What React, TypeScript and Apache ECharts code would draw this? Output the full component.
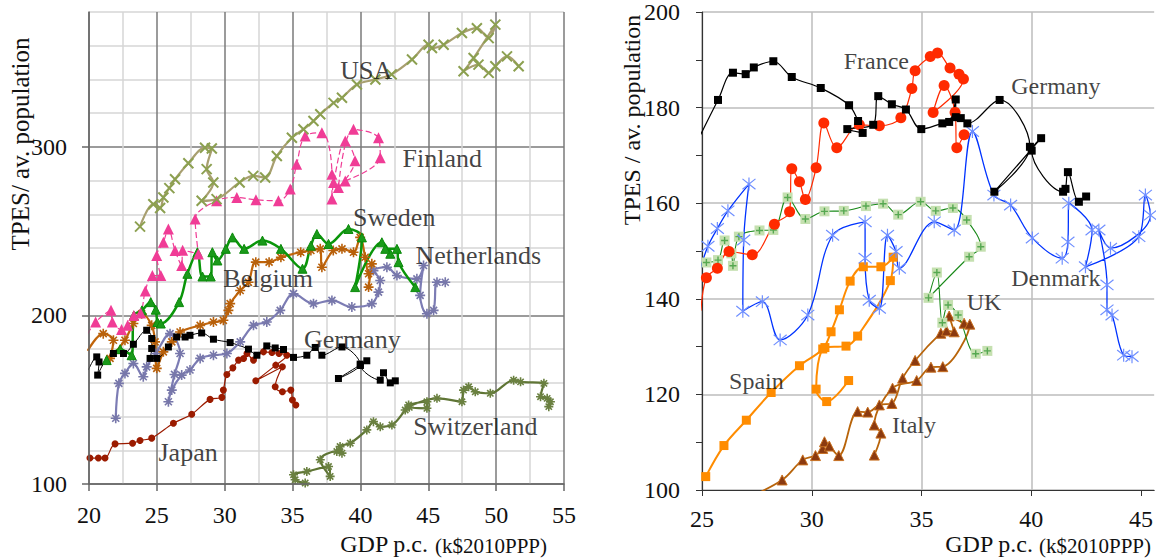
import React, { useEffect, useRef } from 'react';
import * as echarts from 'echarts';

const FONT = '"Liberation Serif", "Times New Roman", serif';

// ---------- Left panel: [GDP p.c. k$, TPES / av. population] ----------
const usaL = [[23.76,252.7],[24.74,266],[25.24,263.7],[25.48,270],[25.92,275.5],[26.34,280.8],[27.32,290.3],[28.55,299.5],[29.05,299],[28.67,286.8],[29.16,278.9],[28.3,268],[29.4,269],[31.1,278.9],[32.1,282.8],[32.98,281.8],[33.84,294.6],[34.95,305.4],[35.8,310.4],[36.54,315.3],[37.04,319.3],[38.02,326.1],[38.64,329.1],[39.74,337],[41.1,340],[42.3,343],[43.8,351.8],[45.02,360.6],[45.27,358.6],[46.13,360.6],[47.48,367.5],[48.58,370.4],[49.45,364.5],[49.94,372.5],[48.34,352.7],[47.6,344.9],[48.7,348.8],[49.45,343.9],[49.94,347.8],[50.8,353.7],[51.66,347.8]];
const finlandL = [[19.9,189],[20.49,196.1],[21.62,203],[21.72,196.1],[22.4,191.6],[22.85,194.1],[23.3,200],[23.8,201.4],[24.15,214.5],[24.67,223.7],[25.29,223.7],[24.99,235.5],[25.48,243.4],[25.85,251.3],[26.34,238.5],[26.83,229.6],[26.9,238.7],[28.06,236.5],[27.82,257.2],[29.4,268],[30.89,270],[32.3,268.6],[33.96,268],[34.83,275],[35.3,289.7],[35.93,306.4],[37.16,308.4],[37.9,283.8],[37.9,269],[38.02,278.8],[38.88,303.5],[39.6,291.7],[38.38,275.9],[39.49,310.4],[41.33,305.4],[41.46,293.6],[38.88,279.8]];
const swedenL = [[21.3,173.5],[22.3,180],[23.14,176.4],[23.3,200],[23.9,203],[24.55,207.9],[24.92,203.4],[25.04,196.1],[25.29,195.2],[26.64,207.9],[27.25,224.7],[27.99,237.5],[28.36,223.1],[28.97,223.1],[29.09,237.5],[29.46,232.6],[30.08,239.5],[30.57,246.3],[31.43,239.5],[32.78,244.4],[34.14,239.5],[35.73,227.7],[36.35,241.4],[36.79,248.3],[37.65,242.4],[39.12,251.3],[40.11,246.3],[39.61,216.8],[41.58,243.4],[42.2,236.6],[41.83,239.5],[42.69,239.5],[42.81,231.6],[44.04,216.8]];
const netherlandsL = [[19.9,179],[21.05,189.2],[21.8,185.3],[21.55,174.5],[22.65,185.3],[23.27,195.2],[23.88,201],[24.62,194.1],[24.87,184.3],[24.99,168.6],[25.48,178.4],[26.1,184.3],[26.71,190.2],[28.19,194.1],[29.17,196.1],[29.9,197.1],[30.27,203],[30.4,207],[31.14,214.8],[31.75,219.7],[32.29,231.6],[33.27,231.6],[34.14,234.5],[35.6,237.5],[36.35,238.5],[37.04,239.5],[37.16,228.6],[38.0,238.5],[38.64,239.5],[39.49,237.5],[39.98,246.3],[40.35,234.5],[40.6,224.7],[40.84,230.6],[40.6,216.8]];
const belgiumL = [[21.97,139],[22.2,159.7],[22.65,165.6],[23.27,171.5],[24.0,163.6],[24.25,169.5],[24.92,177.4],[25.97,189.2],[26.71,177.4],[26.3,165],[25.85,148.8],[26.1,155.7],[26.83,164.6],[27.44,167.6],[28.19,174.5],[29.17,176.4],[30.16,177.4],[31.14,184.3],[32.12,194.1],[33.1,196.1],[34.09,203],[35.07,212.9],[36.54,207],[37.9,208.9],[39.37,205],[40.84,207],[41.33,213.8],[41.46,220.7],[40.96,226.6],[41.95,228.6],[42.69,223.7],[44.16,221.7],[44.65,229.6],[44.4,211.9],[44.9,201],[45.39,203],[45.64,219.7],[46.25,219.7]];
const germanyL = [[19.95,167.6],[20.57,175.4],[20.74,172.4],[20.64,164.6],[21.8,177.4],[22.54,177.4],[23.27,182.9],[24.25,191.2],[24.62,186.3],[24.62,180.4],[24.5,174.5],[24.99,174.5],[25.85,181.3],[26.46,187.2],[27.08,187.2],[27.44,188.2],[28.3,189.6],[29.17,185.9],[30.4,183.9],[31.75,180],[32.37,176.4],[33.1,181.9],[33.72,180.7],[34.33,179.8],[35.07,175.1],[36.05,176.4],[36.67,181],[37.16,176.4],[38.64,181.3],[39.98,171.1],[38.38,162.6],[40.47,173.1],[40.0,170.3],[41.46,161.6],[41.7,166],[42.2,160],[42.57,161.2]];
const japanL = [[19.9,115.4],[20.07,115.4],[20.69,115.4],[21.18,115.4],[21.92,123.8],[23.21,124.2],[23.76,125.8],[24.62,127.2],[26.22,136],[27.57,141.4],[28.92,150.2],[29.79,151.4],[29.9,155.7],[30.16,165],[30.6,168.9],[31.02,173.5],[31.39,174.5],[31.64,177.4],[32.12,173.5],[32.86,178.4],[33.48,178],[34.0,177.4],[34.58,176.4],[33.76,170.5],[32.29,161.2],[34.25,169.5],[33.72,157.7],[34.25,154.7],[34.87,155.7],[34.99,149.8],[35.24,146.9]];
const switzerlandL = [[35.93,100.6],[35.19,102.5],[35.07,105.5],[36.05,107.4],[37.65,110.4],[37.77,104.5],[37.04,114.4],[38.26,119.3],[38.64,118.3],[38.5,122.2],[39.25,124.2],[40.47,132.1],[40.96,137],[41.46,134],[42.32,135],[43.3,143.9],[43.55,146.9],[44.9,148.8],[44.9,144.9],[43.6,145.5],[45.64,150.8],[47.48,148.8],[47.6,155.7],[47.97,157.7],[48.46,154.7],[49.57,153.8],[51.29,161.6],[51.8,160.6],[53.52,159.7],[53.27,151.8],[53.76,150.8],[54.0,148.8],[53.88,145.9]];

// ---------- Right panel ----------
const germanyR = [[24.9,174],[25.73,181.6],[26.41,187.3],[26.99,187],[27.36,188.4],[28.25,189.7],[29.09,186.4],[30.41,184.1],[31.7,180.5],[32.11,177.2],[32.32,174.7],[31.62,175.5],[32.8,176.4],[33.03,182.4],[33.65,180.7],[34.29,179.6],[34.99,175.5],[35.95,176.7],[36.26,177],[36.56,181.7],[36.56,178],[36.79,177.8],[37.09,176.7],[38.56,181.6],[39.94,171.8],[38.32,162.4],[40.45,173.6],[40.02,171],[41.45,162.4],[41.56,163],[41.67,166.5],[42.17,160.3],[42.5,161.4]];
const franceR = [[24.95,137.5],[25.2,144.4],[25.7,146.4],[26.23,149.9],[27.29,149.2],[28.3,155.6],[28.99,158.2],[29.09,167.2],[29.44,164.5],[29.71,160.8],[30.2,167.4],[30.55,176.8],[31.14,171.6],[32.17,176.4],[33.08,176.2],[34.06,177.9],[34.56,184],[34.71,187.7],[35.4,190.7],[35.73,191.4],[36.3,188.3],[36.71,187],[36.91,186],[35.53,179],[36.03,184.6],[36.53,179],[36.61,171.6],[36.94,174.3]];
const denmarkR = [[24.9,146],[25.27,151],[25.7,154.7],[26.18,158.4],[27.14,164],[26.9,152.3],[26.86,137.4],[27.75,139.4],[28.56,131.4],[29.82,136.6],[30.95,153.3],[32.43,156.1],[32.43,148.5],[32.62,139.7],[33.08,138],[33.45,153.3],[33.84,149.9],[33.99,146.4],[35.58,156.1],[36.49,154.4],[37.32,175],[38.3,161.7],[39.06,159.6],[40.05,152.7],[41.41,148.5],[41.67,151.9],[41.71,160],[42.77,154.4],[42.47,146.7],[44.9,153],[45.2,161.7],[45.43,157.5],[43.61,150.6],[43.08,154.4],[43.45,142.9],[43.45,137.7],[43.68,136.6],[44.21,128.2],[44.59,127.9]];
const ukR = [[24.9,147.3],[25.2,147.6],[25.73,148.1],[26.03,152.2],[26.34,149.5],[26.41,146.9],[26.68,153],[27.62,154.3],[28.25,154.4],[28.9,161.2],[29.71,156.7],[30.58,158.3],[31.46,158.4],[32.47,159.4],[33.25,159.9],[33.94,157.6],[34.96,160.3],[35.65,158.4],[36.43,159],[37.06,156.5],[37.7,150.9],[37.17,148.8],[35.32,140.2],[35.7,145.5],[35.95,135],[36.21,138.7],[36.67,136.6],[37.47,128.5],[38.0,129.1]];
const spainR = [[25.17,102.8],[26.0,109.3],[27.02,114.6],[28.15,120.4],[29.44,126],[30.5,129.5],[30.88,133.1],[31.26,137.7],[31.75,143.7],[32.35,146.7],[33.15,146.7],[33.71,148.7],[33.58,143.8],[32.09,132.2],[31.56,130.1],[30.6,129.8],[30.2,121.1],[30.68,118.5],[31.68,122.9]];
const italyR = [[26.9,98],[28.65,102.1],[29.59,106.3],[30.17,107.2],[30.5,108.7],[30.58,110.1],[30.8,109.2],[31.23,107.2],[32.09,116.4],[32.55,116.3],[33.08,117.8],[33.65,118.1],[34.14,123.4],[34.71,127.1],[35.88,132.8],[36.14,133.3],[36.49,133.1],[36.26,136.4],[36.94,134.9],[37.2,134.7],[35.97,125.8],[35.43,125.7],[34.78,122.9],[33.68,121.3],[32.85,113.6],[33.15,111.9],[32.85,107.3]];

// ---------- Labels & ticks ----------
const leftLabels: [string, number, number][] = [['USA',40.43,345.4],['Finland',46.03,292.9],['Sweden',42.49,258],['Netherlands',48.69,235.5],['Belgium',33.2,222],['Germany',39.4,185.9],['Japan',27.3,118.5],['Switzerland',48.47,133.9]];
const rightLabels: [string, number, number][] = [['France',32.94,189.7],['Germany',41.12,184.5],['Denmark',41.12,144.4],['UK',37.85,139.3],['Spain',27.48,122.8],['Italy',34.66,113.6]];
const leftXTicks = [20,25,30,35,40,45,50,55];
const leftYTicks = [100,200,300];
const rightXTicks = [25,30,35,40,45];
const rightYTicks = [100,120,140,160,180,200];

const X_SYM = 'path://M0,0L10,10M10,0L0,10';
const STAR8 = 'path://M5,0L5,10M0,5L10,5M1.5,1.5L8.5,8.5M8.5,1.5L1.5,8.5';
const STAR6 = 'path://M1,1L9,9M9,1L1,9M5,0L5,10';
const PLUS = 'path://M5,0L5,10M0,5L10,5';

function line(data: number[][], grid: number, lineColor: string, width: number, symbol: string, size: number, item: any, extra: any = {}) {
  return {
    type: 'line', data, xAxisIndex: grid, yAxisIndex: grid, smooth: 0.35,
    symbol, symbolSize: size, clip: true,
    lineStyle: { color: lineColor, width },
    itemStyle: item,
    emphasis: { disabled: true },
    ...extra,
  };
}

function labelSeries(labels: [string, number, number][], grid: number, size: number) {
  return {
    type: 'scatter', xAxisIndex: grid, yAxisIndex: grid, symbolSize: 1, silent: true, z: 20,
    itemStyle: { color: 'rgba(0,0,0,0)' },
    label: { show: true, position: 'inside', formatter: '{b}', fontSize: size, fontFamily: FONT, color: '#111' },
    data: labels.map(l => ({ name: l[0], value: [l[1], l[2]] })),
  };
}

export default function App() {
  const ref = useRef<HTMLDivElement>(null);
  useEffect(() => {
    const chart = echarts.init(ref.current!, null, { renderer: 'svg' });
    const lbl = { fontSize: 24, fontFamily: FONT, color: '#111' };
    const off = { show: false };
    const txt = (x: number, y: number, text: string, size: number, align: string, extra: any = {}) => ({
      type: 'text', x, y, ...extra,
      style: { text, fontSize: size, fontFamily: FONT, fill: '#111', align, verticalAlign: extra.rotation ? 'middle' : 'bottom' },
    });
    chart.setOption({
      animation: false,
      textStyle: { fontFamily: FONT },
      grid: [
        { left: 89, top: 12, width: 475, height: 472 },
        { left: 702, top: 12, width: 454, height: 478 },
      ],
      xAxis: [
        {
          gridIndex: 0, type: 'value', position: 'bottom', min: 20, max: 55, interval: 5, z: 5,
          axisLine: { lineStyle: { color: '#666', width: 1.5 } },
          axisTick: { customValues: leftXTicks, length: 7, lineStyle: { color: '#666', width: 1.5 } },
          axisLabel: { customValues: leftXTicks, margin: 19, ...lbl },
          splitLine: off,
        },
        {
          gridIndex: 1, type: 'value', min: 25, max: 45.6, interval: 5,
          axisLine: { lineStyle: { color: '#333', width: 1.2 } },
          axisTick: { customValues: rightXTicks, length: 6, lineStyle: { color: '#333' } },
          axisLabel: { customValues: rightXTicks, margin: 17, ...lbl },
          splitLine: { show: true, showMaxLine: false, lineStyle: { color: '#bdbdbd', width: 1.5 } },
        },
        {
          gridIndex: 0, type: 'value', position: 'bottom', min: 20, max: 55, interval: 2.5,
          axisLine: off, axisTick: off, axisLabel: off,
          splitLine: { show: true, lineStyle: { color: ['#7a7a7a', '#d6d6d6'], width: 1.5 } },
        },
      ],
      yAxis: [
        {
          gridIndex: 0, type: 'value', position: 'left', min: 100, max: 380, interval: 100, z: 5,
          axisLine: { show: true, lineStyle: { color: '#666', width: 1.5 } },
          axisTick: { show: true, customValues: leftYTicks, length: 7, lineStyle: { color: '#666', width: 1.5 } },
          axisLabel: { customValues: leftYTicks, margin: 22, ...lbl },
          splitLine: off,
        },
        {
          gridIndex: 1, type: 'value', min: 100, max: 200, interval: 10,
          axisLine: { show: true, lineStyle: { color: '#333', width: 1.2 } },
          axisTick: { show: true, length: 6, lineStyle: { color: '#333' } },
          axisLabel: { customValues: rightYTicks, margin: 22, ...lbl },
          splitLine: { show: true, lineStyle: { color: ['#bdbdbd', 'rgba(0,0,0,0)'], width: 1.5 } },
        },
        {
          gridIndex: 0, type: 'value', position: 'left', min: 100, max: 380, interval: 20,
          axisLine: off, axisTick: off, axisLabel: off,
          splitLine: { show: true, lineStyle: { color: ['#7a7a7a', '#d6d6d6', '#d6d6d6', '#d6d6d6', '#d6d6d6'], width: 1.5 } },
        },
      ],
      graphic: [
        txt(20, 144, 'TPES/ av. population', 25, 'center', { rotation: Math.PI / 2 }),
        txt(428, 556, 'GDP p.c.', 24, 'right'),
        txt(435, 556, '(k$2010PPP)', 21, 'left'),
        txt(632, 120, 'TPES / av. population', 24, 'center', { rotation: Math.PI / 2 }),
        txt(1033, 556, 'GDP p.c.', 24, 'right'),
        txt(1039, 556, '(k$2010PPP)', 21, 'left'),
      ],
      series: [
        // left
        line(switzerlandL, 0, '#5f7535', 2.2, STAR8, 9, { color: '#6a8040', borderColor: '#6a8040', borderWidth: 1.6 }),
        line(japanL, 0, '#9b1b00', 1.2, 'circle', 7, { color: '#9b1b00' }),
        line(belgiumL, 0, '#7c7cb4', 2.2, STAR8, 10, { color: '#7777aa', borderColor: '#7777aa', borderWidth: 1.6 }),
        line(netherlandsL, 0, '#c0640a', 2.2, STAR8, 10, { color: '#b8600a', borderColor: '#b8600a', borderWidth: 1.6 }),
        line(swedenL, 0, '#0a960a', 2.5, 'triangle', 9, { color: '#1a9a1a', borderColor: '#0a8a0a', borderWidth: 1 }),
        line(germanyL, 0, '#000', 1, 'rect', 7, { color: '#000' }),
        line(finlandL, 0, '#f03c96', 1.2, 'triangle', 11, { color: '#f03c96' }, { lineStyle: { color: '#f03c96', width: 1.2, type: [6, 3] } }),
        line(usaL, 0, '#a89f70', 2.2, X_SYM, 10, { color: '#8ca050', borderColor: '#8ca050', borderWidth: 2 }),
        labelSeries(leftLabels, 0, 26),
        // right
        line(italyR, 1, '#b8640a', 1.8, 'triangle', 10, { color: '#8b3a10', borderColor: '#c87020', borderWidth: 1 }),
        line(spainR, 1, '#ff8c00', 2, 'rect', 9, { color: '#ff8c00' }),
        line(ukR, 1, '#1a8a1a', 1.1, 'rect', 10, { color: '#c5e0b0' }),
        { type: 'scatter', xAxisIndex: 1, yAxisIndex: 1, data: ukR, symbol: PLUS, symbolSize: 7, clip: true, silent: true, itemStyle: { color: '#3a9a3a', borderColor: '#3a9a3a', borderWidth: 1.4 }, z: 3 },
        line(denmarkR, 1, '#0033ff', 1.3, STAR6, 13, { color: '#6f8fff', borderColor: '#6f8fff', borderWidth: 1.2 }),
        line(franceR, 1, '#ff2a00', 1.2, 'circle', 11, { color: '#ff2a00' }),
        line(germanyR, 1, '#000', 1.2, 'rect', 8, { color: '#000' }),
        labelSeries(rightLabels, 1, 24),
      ],
    });
    return () => chart.dispose();
  }, []);
  return <div ref={ref} style={{ position: 'absolute', left: 0, top: 0, width: 1156, height: 559 }} />;
}
